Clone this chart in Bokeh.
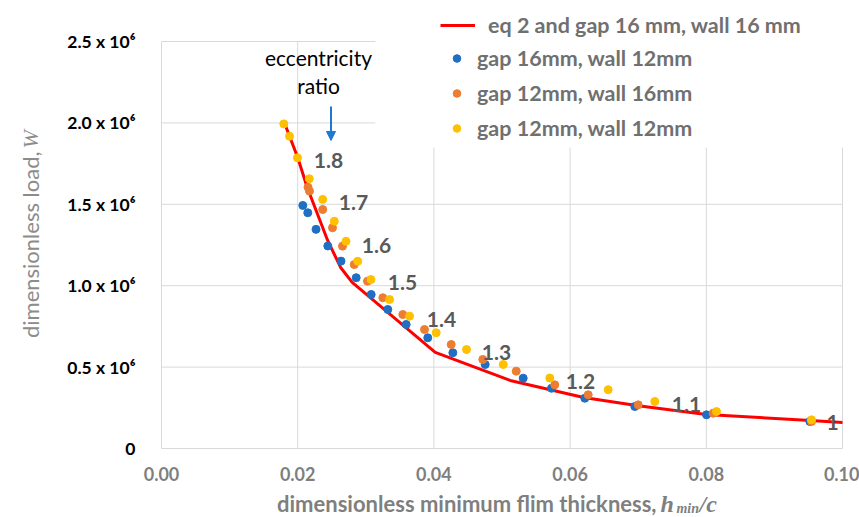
import math
from bokeh.plotting import figure
from bokeh.models import (Range1d, FixedTicker, NumeralTickFormatter, Legend, LegendItem,
                          Label, Arrow, NormalHead, BoxAnnotation)
from bokeh.core.properties import value
from bokeh.embed import file_html
from bokeh.resources import INLINE

# ---------------- data (W in units of 10^6) ----------------
eq_h = [0.0182, 0.0200, 0.0214, 0.0244, 0.0263, 0.0280, 0.0402, 0.0512, 0.0620, 0.0700, 0.0800, 0.0953, 0.1000]
eq_w = [1.984, 1.787, 1.603, 1.278, 1.112, 1.020, 0.590, 0.418, 0.313, 0.262, 0.209, 0.172, 0.160]

blue_h = [0.02075, 0.02148, 0.02269, 0.02442, 0.02636, 0.02859, 0.03079, 0.03323, 0.03593, 0.03910,
          0.04278, 0.04753, 0.05311, 0.05727, 0.06216, 0.06950, 0.08003, 0.09520]
blue_w = [1.493, 1.448, 1.346, 1.244, 1.151, 1.049, 0.946, 0.854, 0.762, 0.680,
          0.588, 0.516, 0.432, 0.370, 0.309, 0.258, 0.207, 0.166]

orange_h = [0.02151, 0.02173, 0.02367, 0.02511, 0.02658, 0.02830, 0.03025, 0.03250, 0.03543, 0.03862,
            0.04254, 0.04718, 0.05209, 0.05775, 0.06266, 0.07000, 0.08101, 0.09545]
orange_w = [1.605, 1.581, 1.468, 1.356, 1.243, 1.130, 1.028, 0.926, 0.823, 0.731,
            0.639, 0.547, 0.475, 0.391, 0.330, 0.268, 0.217, 0.166]

yellow_h = [0.01796, 0.01880, 0.01997, 0.02170, 0.02367, 0.02537, 0.02709, 0.02881, 0.03076, 0.03348,
            0.03642, 0.04034, 0.04479, 0.05018, 0.05702, 0.06559, 0.07244, 0.08150, 0.09545]
yellow_w = [1.994, 1.918, 1.786, 1.657, 1.530, 1.396, 1.273, 1.150, 1.038, 0.915,
            0.813, 0.711, 0.608, 0.516, 0.433, 0.361, 0.289, 0.227, 0.176]

ecc_labels = ["1.8", "1.7", "1.6", "1.5", "1.4", "1.3", "1.2", "1.1", "1"]
ecc_h = [0.02452, 0.02819, 0.03157, 0.03539, 0.04112, 0.04919, 0.06153, 0.07709, 0.09853]
ecc_w = [1.769, 1.511, 1.247, 1.020, 0.792, 0.590, 0.412, 0.270, 0.160]

series_names = ["eq 2 and gap 16 mm, wall 16 mm", "gap 16mm, wall 12mm",
                "gap 12mm, wall 16mm", "gap 12mm, wall 12mm"]

x_ticks = [0.0, 0.02, 0.04, 0.06, 0.08, 0.10]
y_ticks = [0, 0.5, 1.0, 1.5, 2.0, 2.5]
y_tick_labels = ["0", "0.5 x 10\u2076", "1.0 x 10\u2076", "1.5 x 10\u2076", "2.0 x 10\u2076", "2.5 x 10\u2076"]

# ---------------- styling ----------------
SANS = "Lato"
SERIF = "Liberation Serif"
GRID = "#d9d9d9"
RED = "#ff0000"
BLUE = "#1f6fc5"
ORANGE = "#ed7d31"
YELLOW = "#ffc000"
ARROW = "#1f78d1"
W_PX, H_PX = 859, 517

# the frame covers the whole canvas; axes are pinned at 0 so titles/legend are never clipped
p = figure(width=W_PX, height=H_PX, output_backend="svg", toolbar_location=None,
           x_range=Range1d(-0.023642, 0.102496), y_range=Range1d(-0.42383, 2.75184),
           min_border=0)
p.outline_line_color = None
p.background_fill_color = "white"
p.border_fill_color = "white"
p.grid.visible = False

for ax in (p.xaxis[0], p.yaxis[0]):
    ax.fixed_location = 0
    ax.axis_line_color = None
    ax.major_tick_line_color = None
    ax.minor_tick_line_color = None
    ax.major_label_text_font = SANS
    ax.major_label_text_font_style = "bold"

p.xaxis.ticker = FixedTicker(ticks=x_ticks)
p.xaxis.formatter = NumeralTickFormatter(format="0.00")
p.xaxis.major_label_text_color = "#7f7f7f"
p.xaxis.major_label_text_font_size = "18px"
p.xaxis.major_label_standoff = 12
p.xaxis.bounds = (x_ticks[0], x_ticks[-1])

p.yaxis.ticker = FixedTicker(ticks=y_ticks)
p.yaxis.major_label_overrides = dict(zip(y_ticks, y_tick_labels))
p.yaxis.major_label_text_color = "#000000"
p.yaxis.major_label_text_font_size = "17.5px"
p.yaxis.major_label_standoff = 20
p.yaxis.bounds = (y_ticks[0], y_ticks[-1])

# grid lines, spanning only the plotting area
n_x, n_y = len(x_ticks), len(y_ticks)
p.segment(x0=x_ticks, y0=[y_ticks[0]] * n_x, x1=x_ticks, y1=[y_ticks[-1]] * n_x,
          line_color=GRID, line_width=1)
p.segment(x0=[x_ticks[0]] * n_y, y0=y_ticks, x1=[x_ticks[-1]] * n_y, y1=y_ticks,
          line_color=GRID, line_width=1)

# ---------------- glyphs ----------------
r_eq = p.line(eq_h, eq_w, line_color=RED, line_width=3)
r_blue = p.scatter(blue_h, blue_w, size=8, fill_color=BLUE, line_color=BLUE)
r_orange = p.scatter(orange_h, orange_w, size=8, fill_color=ORANGE, line_color=ORANGE)
r_yellow = p.scatter(yellow_h, yellow_w, size=8, fill_color=YELLOW, line_color=YELLOW)

p.text(x=ecc_h, y=ecc_w, text=ecc_labels, text_font=value(SANS), text_font_style="bold",
       text_font_size="21px", text_color="#595959", text_align="center", text_baseline="middle")

# "eccentricity ratio" note with arrow
p.add_layout(Label(x=0.02305, y=2.402, text="eccentricity", text_font=SANS, text_font_size="21px",
                   text_color="#000000", text_align="center", text_baseline="middle"))
p.add_layout(Label(x=0.02305, y=2.230, text="ratio", text_font=SANS, text_font_size="21px",
                   text_color="#000000", text_align="center", text_baseline="middle"))
p.add_layout(Arrow(end=NormalHead(size=9, fill_color=ARROW, line_color=ARROW),
                   x_start=0.02489, y_start=2.101, x_end=0.02489, y_end=1.892,
                   line_color=ARROW, line_width=2))

# white legend area
p.add_layout(BoxAnnotation(left=0.0314, bottom=1.849, fill_color="white", fill_alpha=1.0,
                           line_color=None, line_alpha=0))

leg_common = dict(padding=0, margin=0, border_line_color=None, background_fill_alpha=0,
                  label_text_font=SANS, label_text_font_style="bold", label_text_font_size="21.5px",
                  label_text_color="#707070", glyph_height=22, label_height=22)
leg1 = Legend(items=[LegendItem(label=value(series_names[0]), renderers=[r_eq])],
              location=(440, H_PX - 38), glyph_width=35, label_standoff=13, **leg_common)
leg2 = Legend(items=[LegendItem(label=value(series_names[1]), renderers=[r_blue]),
                     LegendItem(label=value(series_names[2]), renderers=[r_orange]),
                     LegendItem(label=value(series_names[3]), renderers=[r_yellow])],
              location=(447, H_PX - 141), glyph_width=19, label_standoff=11, spacing=9, **leg_common)
p.add_layout(leg1)
p.add_layout(leg2)

# axis titles (mixed fonts)
TITLE_GREY = "#7f7f7f"
p.add_layout(Label(x=0.07269, y=-0.338, text="dimensionless minimum flim thickness,",
                   text_font=SANS, text_font_style="bold", text_font_size="22px",
                   text_color=TITLE_GREY, text_align="right", text_baseline="alphabetic"))
p.add_layout(Label(x=0.07328, y=-0.338, text="h", text_font=SERIF, text_font_style="bold italic",
                   text_font_size="24px", text_color=TITLE_GREY, text_align="left",
                   text_baseline="alphabetic"))
p.add_layout(Label(x=0.07562, y=-0.369, text="min", text_font=SERIF, text_font_style="bold italic",
                   text_font_size="14px", text_color=TITLE_GREY, text_align="left",
                   text_baseline="alphabetic"))
p.add_layout(Label(x=0.0790, y=-0.338, text="/c", text_font=SERIF, text_font_style="bold italic",
                   text_font_size="24px", text_color=TITLE_GREY, text_align="left",
                   text_baseline="alphabetic"))

p.add_layout(Label(x=-0.019236, y=1.8243, text="dimensionless load,", angle=math.pi / 2,
                   text_font=SANS, text_font_size="22px", text_color="#8c8c8c",
                   text_align="right", text_baseline="alphabetic"))
p.add_layout(Label(x=-0.019236, y=1.8428, text="W", angle=math.pi / 2,
                   text_font=SERIF, text_font_style="italic", text_font_size="22px",
                   text_color="#8c8c8c", text_align="left", text_baseline="alphabetic"))

open("out.html", "w").write(file_html(p, INLINE))
